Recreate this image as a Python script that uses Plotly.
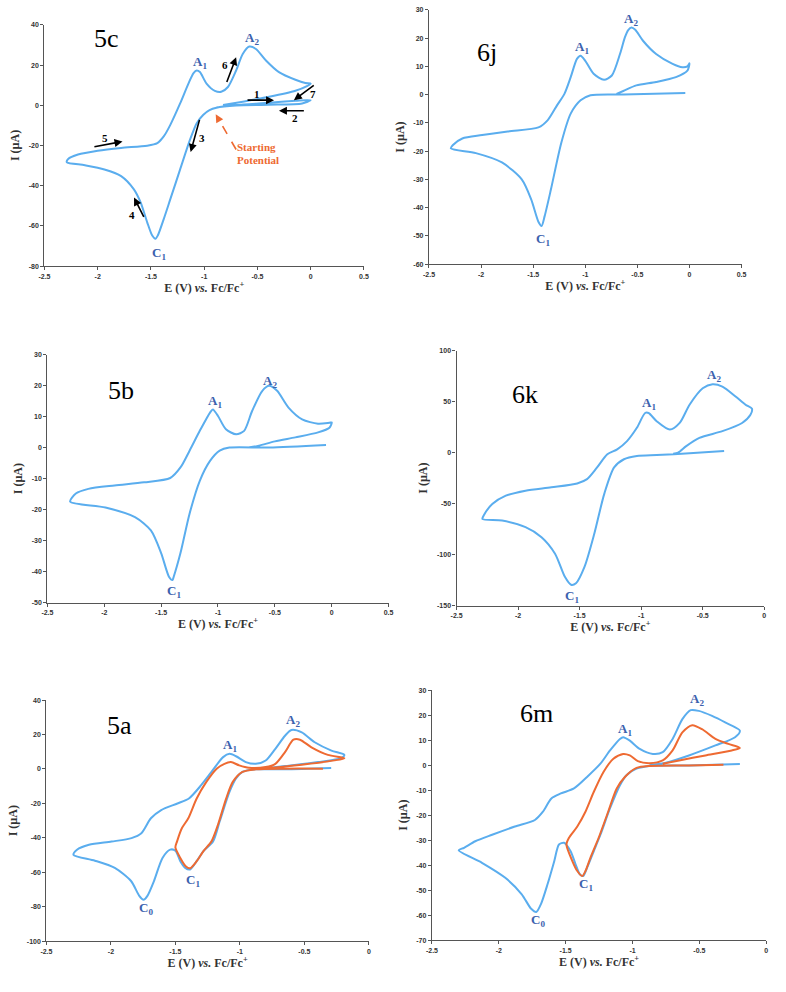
import plotly.graph_objects as go

# ---------------- data ----------------
e_5c = [-0.885, -0.7, -0.39, -0.143, 0.0,
        -0.08, -0.39, -0.7, -0.885, -0.95, -1.01, -1.07, -1.133, -1.226, -1.318, -1.38, -1.436, -1.458, -1.488,
        -1.535, -1.597, -1.66, -1.78, -1.937, -2.12, -2.29,
        -2.277, -2.185, -2.0, -1.78, -1.535, -1.44, -1.38, -1.318, -1.226, -1.148, -1.1, -1.07, -1.04, -0.978,
        -0.9, -0.84, -0.777, -0.7, -0.638, -0.576, -0.514, -0.42, -0.298, -0.143, -0.05, 0.0,
        -0.035, -0.143, -0.39, -0.638, -0.823]
i_5c = [-1.05, 0.1, 1.25, 2.2, 2.55,
        0.9, 0.26, -0.1, -1.2, -2.4, -4.8, -8.9, -17.1, -31.9, -46.7, -56.6, -64.8, -66.4, -64.8,
        -58.2, -48.3, -41.8, -35.2, -31.9, -29.8, -28.3,
        -26.7, -24.5, -22.6, -21.2, -20.1, -18.8, -15.5, -9.75, 0.9, 10.8, 16.0, 17.3, 16.5, 10.8,
        7.2, 6.7, 9.1, 17.3, 25.5, 29.2, 28.0, 22.3, 16.5, 12.7, 11.1, 10.8,
        9.5, 7.2, 4.2, 1.8, 0.1]

e_6j = [-0.04, -0.635, -0.95, -1.045, -1.14, -1.23, -1.33, -1.39, -1.42, -1.45, -1.52, -1.61, -1.80, -2.05, -2.29,
        -2.27, -2.18, -1.99, -1.74, -1.45, -1.36, -1.27, -1.2, -1.14, -1.08, -1.045, -1.0, -0.92, -0.82, -0.745,
        -0.667, -0.62, -0.588, -0.556, -0.52, -0.446, -0.32, -0.162, -0.068, -0.02, 0.0,
        -0.02, -0.13, -0.32, -0.51, -0.635, -0.7]
i_6j = [0.6, 0.1, -0.2, -2, -6.7, -17, -33.6, -43, -46.5, -45, -37, -30, -24, -20.7, -19,
        -17.8, -15.5, -14.3, -13, -11.6, -9, -3.7, 0.3, 6.2, 12.7, 13.8, 12, 7.4, 5.3, 6.8,
        14.4, 20.3, 22.9, 23.8, 23.0, 19.1, 14.4, 10.9, 9.7, 10.0, 11.1,
        8.5, 6.2, 4.5, 3.3, 1.3, 0.3]

e_5b = [-0.05, -0.55, -0.9, -0.985, -1.07, -1.16, -1.25, -1.33, -1.39, -1.40, -1.43, -1.5, -1.59, -1.73, -1.99, -2.3,
        -2.25, -2.14, -1.91, -1.65, -1.42, -1.33, -1.25, -1.16, -1.07, -1.045, -1.0, -0.93, -0.84, -0.77,
        -0.7, -0.61, -0.55, -0.48, -0.38, -0.26, -0.12, -0.02, 0.0,
        -0.02, -0.12, -0.32, -0.5, -0.64, -0.73]
i_5b = [0.8, 0, 0, -1, -4.3, -10.7, -21.3, -34, -41.7, -42.7, -41.7, -34, -26.7, -22.4, -19.3, -17.4,
        -14.8, -13.3, -12.2, -11.2, -9.8, -6.4, -1, 5.4, 11.3, 12.3, 10.2, 5.9, 4.3, 5.4,
        11.8, 18.3, 19.9, 18.3, 12.9, 9.1, 7.7, 8, 8.1,
        6.4, 4.9, 3.3, 2, 0.6, 0]

e_6k = [-0.326, -0.607, -0.874, -1.035, -1.14, -1.22, -1.30, -1.38, -1.46, -1.53, -1.57, -1.62, -1.70, -1.81, -1.94,
        -2.13, -2.29,
        -2.28, -2.21, -2.10, -1.94, -1.73, -1.52, -1.44, -1.36, -1.275, -1.195, -1.115, -1.035, -0.968, -0.94,
        -0.874, -0.767, -0.687, -0.607, -0.5, -0.42, -0.34, -0.233, -0.152, -0.1,
        -0.112, -0.18, -0.34, -0.527, -0.634, -0.7, -0.74]
i_6k = [1.5, -0.7, -2.3, -3.3, -6.5, -14.5, -40.4, -79, -111.7, -128, -129.5, -121.7, -99, -82.8, -73,
        -66.6, -65,
        -61.6, -50.4, -42.2, -37.3, -34, -30.2, -26, -14.8, -1.7, 3.2, 11.3, 24.3, 38.8, 38.8,
        30.8, 22.6, 29.1, 46.9, 63, 67, 64.7, 55, 46.9, 43,
        37, 29, 21, 14.5, 6.4, 0, -1]

e_5a_blue = [-0.292, -0.65, -0.877, -0.98, -1.03, -1.08, -1.157, -1.208, -1.284, -1.335, -1.386, -1.424, -1.462,
             -1.5, -1.54, -1.6, -1.666, -1.717, -1.747, -1.78, -1.844, -1.97, -2.124, -2.29,
             -2.263, -2.17, -1.995, -1.84, -1.764, -1.69, -1.61, -1.484, -1.395, -1.30, -1.22, -1.13, -1.08,
             -1.03, -0.954, -0.877, -0.8, -0.725, -0.65, -0.6, -0.52, -0.42, -0.29, -0.19,
             -0.216, -0.394, -0.65, -0.827]
i_5a_blue = [0.6, -0.2, -0.2, -1.7, -5.5, -13.2, -30.5, -42, -47.8, -53.5, -58.3, -57.4, -53.5,
             -47.4, -46.8, -51.6, -65, -73.6, -75.9, -73.6, -65, -57.4, -53.2, -49.8,
             -46.9, -44, -42.1, -40.1, -37.3, -28.6, -23.8, -20, -17.1, -9.4, -1.7, 6.9, 8.8,
             7.4, 4, 3, 4.9, 11.7, 19.3, 22.6, 21.2, 15.5, 10.7, 8.2,
             6.3, 4, 1.7, 0.2]
e_5a_orange = [-0.356, -0.65, -0.877, -0.98, -1.055, -1.106, -1.17, -1.22, -1.284, -1.335, -1.386, -1.42, -1.462, -1.5,
               -1.487, -1.45, -1.4, -1.335, -1.26, -1.18, -1.12, -1.07, -1.005, -0.93, -0.8, -0.725, -0.65,
               -0.585, -0.534, -0.445, -0.318, -0.19,
               -0.267, -0.52, -0.776, -0.9]
i_5a_orange = [0.2, 0.2, -0.2, -1.7, -7.5, -17, -32.4, -42, -47.8, -53.5, -57.6, -56.4, -51.6, -45.5,
               -42, -34.4, -28.6, -17.1, -7.5, 0.2, 3, 4, 2.1, 0.7, 1.1, 3, 9.8,
               17, 17, 12.6, 8.2, 6.3,
               5, 2.5, 0.6, 0.2]

e_6m_blue = [-0.197, -0.578, -0.873, -0.97, -1.045, -1.094, -1.168, -1.24, -1.29, -1.34, -1.369, -1.394, -1.426,
             -1.463, -1.512, -1.55, -1.585, -1.635, -1.684, -1.72, -1.758, -1.83, -1.954, -2.126, -2.3,
             -2.26, -2.176, -2.05, -1.88, -1.73, -1.67, -1.607, -1.536, -1.438, -1.34, -1.24, -1.168, -1.094,
             -1.07, -1.02, -0.946, -0.848, -0.774, -0.7, -0.627, -0.565, -0.504, -0.405, -0.307, -0.197,
             -0.233, -0.38, -0.578, -0.75, -0.873]
i_6m_blue = [0.45, -0.1, -0.3, -1.4, -4, -8, -17.2, -27.8, -34.4, -41, -44.3, -43.6, -39.6,
             -34.4, -31, -31.7, -38.3, -47.5, -55.4, -58.7, -57.4, -51.5, -44.9, -39, -34,
             -33, -30.4, -27.8, -24.5, -21.9, -18.6, -13.3, -11.3, -9.3, -4.7, 0.6, 5.9, 10.5,
             11.2, 9.8, 6.5, 4.5, 5.2, 10.5, 18.4, 22, 21.7, 19.7, 17.1, 13.8,
             11.2, 7.9, 3.9, 1, 0]
e_6m_orange = [-0.32, -0.578, -0.873, -0.97, -1.057, -1.118, -1.19, -1.253, -1.315, -1.352, -1.377, -1.413, -1.45,
               -1.494,
               -1.475, -1.413, -1.352, -1.29, -1.217, -1.143, -1.07, -1.02, -0.96, -0.873, -0.774, -0.7, -0.627,
               -0.553, -0.48, -0.38, -0.283, -0.197,
               -0.258, -0.455, -0.651, -0.774]
i_6m_orange = [0.2, -0.1, -0.3, -1.1, -4.7, -9.3, -19.8, -29, -37, -42.3, -44.3, -42.3, -38.3,
               -31.7,
               -29, -24.5, -18.6, -10.7, -2.7, 2.6, 4.5, 3.9, 1.6, 0.8, 1.9, 5.9, 13.1,
               16, 14.4, 10.5, 8.5, 6.9,
               5.9, 3.9, 1.9, 0.6]

# tick values
xt_wide = [-2.5, -2, -1.5, -1, -0.5, 0, 0.5]
xt_narrow = [-2.5, -2, -1.5, -1, -0.5, 0]
yt_5c = [-80, -60, -40, -20, 0, 20, 40]
yt_6j = [-60, -50, -40, -30, -20, -10, 0, 10, 20, 30]
yt_5b = [-50, -40, -30, -20, -10, 0, 10, 20, 30]
yt_6k = [-150, -100, -50, 0, 50, 100]
yt_5a = [-100, -80, -60, -40, -20, 0, 20, 40]
yt_6m = [-70, -60, -50, -40, -30, -20, -10, 0, 10, 20, 30]

panel_names = ["5c", "6j", "5b", "6k", "5a", "6m"]

# ---------------- styling ----------------
BLUE = "#5aadee"
ORANGE = "#ee6a32"
LBL = "#3c62ae"
W, H = 786, 992


def dom_x(a, b):
    return [a / W, b / W]


def dom_y(top, bottom):
    return [1 - bottom / H, 1 - top / H]


panels = [
    ("5c", (39, 363), (21, 264), [-2.5, 0.5], [-80, 40], xt_wide, yt_5c),
    ("6j", (429, 746), (6, 262), [-2.5, 0.5], [-60, 30], xt_wide, yt_6j),
    ("5b", (42, 388), (353, 603), [-2.5, 0.5], [-50, 30], xt_wide, yt_5b),
    ("6k", (457, 769), (349, 606), [-2.5, 0], [-150, 100], xt_narrow, yt_6k),
    ("5a", (41, 368), (701, 944), [-2.5, 0], [-100, 40], xt_narrow, yt_5a),
    ("6m", (432, 771), (691, 943), [-2.5, 0], [-70, 30], xt_narrow, yt_6m),
]

curves = {
    "5c": [(e_5c, i_5c, BLUE)],
    "6j": [(e_6j, i_6j, BLUE)],
    "5b": [(e_5b, i_5b, BLUE)],
    "6k": [(e_6k, i_6k, BLUE)],
    "5a": [(e_5a_blue, i_5a_blue, BLUE), (e_5a_orange, i_5a_orange, ORANGE)],
    "6m": [(e_6m_blue, i_6m_blue, BLUE), (e_6m_orange, i_6m_orange, ORANGE)],
}

fig = go.Figure()
layout = dict(width=W, height=H, margin=dict(l=0, r=0, t=0, b=0),
              paper_bgcolor="white", plot_bgcolor="white", showlegend=False)

annotations = []
shapes = []

axis_common = dict(showgrid=False, zeroline=False, showline=True, linecolor="#555555", linewidth=1.3,
                   ticks="outside", ticklen=3, tickcolor="#555555", tickwidth=1,
                   tickfont=dict(family="Liberation Sans", size=7, color="#333333", weight="bold"))

for k, (name, xd, yd, xr, yr, xt, yt) in enumerate(panels):
    n = "" if k == 0 else str(k + 1)
    xa, ya = "x" + n, "y" + n
    layout["xaxis" + n] = dict(axis_common, domain=dom_x(*xd), range=xr, anchor=ya,
                               tickvals=xt, ticktext=[f"{v:g}" for v in xt],
                               title=dict(text="<b>E (V) <i>vs.</i> Fc/Fc<sup>+</sup></b>",
                                          font=dict(family="Liberation Serif", size=12, color="#333333"),
                                          standoff=4))
    layout["yaxis" + n] = dict(axis_common, domain=dom_y(*yd), range=yr, anchor=xa,
                               tickvals=yt, ticktext=[f"{v:g}" for v in yt],
                               title=dict(text="<b>I (µA)</b>",
                                          font=dict(family="Liberation Serif", size=12, color="#333333"),
                                          standoff=6))
    for (ex, iy, col) in curves[name]:
        fig.add_trace(go.Scatter(x=ex, y=iy, mode="lines", xaxis=xa, yaxis=ya,
                                 line=dict(color=col, width=2, shape="spline", smoothing=0.75),
                                 hoverinfo="skip"))

labels = [
    (0, "5c", -1.92, 33.0, 26, "black", False),
    (0, "A<sub>1</sub>", -1.04, 21.5, 13, LBL, True),
    (0, "A<sub>2</sub>", -0.55, 33.0, 13, LBL, True),
    (0, "C<sub>1</sub>", -1.42, -73.5, 13, LBL, True),
    (1, "6j", -1.943, 15.0, 26, "black", False),
    (1, "A<sub>1</sub>", -1.03, 16.8, 13, LBL, True),
    (1, "A<sub>2</sub>", -0.56, 26.7, 13, LBL, True),
    (1, "C<sub>1</sub>", -1.41, -51.2, 13, LBL, True),
    (2, "5b", -1.85, 18.3, 26, "black", False),
    (2, "A<sub>1</sub>", -1.03, 15.0, 13, LBL, True),
    (2, "A<sub>2</sub>", -0.54, 21.4, 13, LBL, True),
    (2, "C<sub>1</sub>", -1.39, -46.5, 13, LBL, True),
    (3, "6k", -1.944, 57, 26, "black", False),
    (3, "A<sub>1</sub>", -0.94, 48.5, 13, LBL, True),
    (3, "A<sub>2</sub>", -0.41, 76, 13, LBL, True),
    (3, "C<sub>1</sub>", -1.56, -141, 13, LBL, True),
    (4, "5a", -1.933, 25.0, 26, "black", False),
    (4, "A<sub>1</sub>", -1.08, 13.6, 13, LBL, True),
    (4, "A<sub>2</sub>", -0.585, 28, 13, LBL, True),
    (4, "C<sub>1</sub>", -1.36, -64.5, 13, LBL, True),
    (4, "C<sub>0</sub>", -1.73, -81.2, 13, LBL, True),
    (5, "6m", -1.72, 20.5, 26, "black", False),
    (5, "A<sub>1</sub>", -1.055, 14.4, 13, LBL, True),
    (5, "A<sub>2</sub>", -0.515, 26.3, 13, LBL, True),
    (5, "C<sub>1</sub>", -1.345, -47.8, 13, LBL, True),
    (5, "C<sub>0</sub>", -1.705, -62.1, 13, LBL, True),
]
for (k, txt, ex, iy, sz, col, bold) in labels:
    n = "" if k == 0 else str(k + 1)
    annotations.append(dict(text=txt, x=ex, y=iy, xref="x" + n, yref="y" + n, showarrow=False,
                            font=dict(family="Liberation Serif", size=sz, color=col,
                                      weight="bold" if bold else "normal")))

arrows_5c = [
    (-0.607, 2.56, -0.344, 2.56),
    (-0.05, -2.7, -0.298, -2.7),
    (-1.04, -6.5, -1.127, -23.2),
    (-1.56, -56.2, -1.659, -45.9),
    (-2.045, -20.8, -1.767, -18.0),
    (-0.793, 10.8, -0.70, 23.9),
    (0.043, 10.4, -0.158, 2.56),
]
for (tx, ty, hx, hy) in arrows_5c:
    annotations.append(dict(x=hx, y=hy, ax=tx, ay=ty, xref="x", yref="y", axref="x", ayref="y",
                            text="", showarrow=True, arrowhead=2, arrowsize=1, arrowwidth=1.6,
                            arrowcolor="black"))
nums_5c = [("1", -0.5, 5.8), ("2", -0.15, -6.5), ("3", -1.025, -16.3), ("4", -1.68, -54.4),
           ("5", -1.928, -16.3), ("6", -0.80, 19.8), ("7", 0.025, 5.8)]
for (t, ex, iy) in nums_5c:
    annotations.append(dict(text=t, x=ex, y=iy, xref="x", yref="y", showarrow=False,
                            font=dict(family="Liberation Serif", size=11, color="black", weight="bold")))

shapes.append(dict(type="line", xref="x", yref="y", x0=-0.70, y0=-22.0, x1=-0.875, y1=-6.0,
                   line=dict(color=ORANGE, width=1.6, dash="dash")))
annotations.append(dict(x=-0.892, y=-4.5, ax=-0.87, ay=-6.5, xref="x", yref="y", axref="x", ayref="y",
                        text="", showarrow=True, arrowhead=2, arrowsize=1, arrowwidth=1.6,
                        arrowcolor=ORANGE))
annotations.append(dict(text="<b>Starting</b>", x=-0.51, y=-20.9, xref="x", yref="y", showarrow=False,
                        font=dict(family="Liberation Serif", size=11, color=ORANGE)))
annotations.append(dict(text="<b>Potential</b>", x=-0.49, y=-27.0, xref="x", yref="y", showarrow=False,
                        font=dict(family="Liberation Serif", size=11, color=ORANGE)))

layout["annotations"] = annotations
layout["shapes"] = shapes
fig.update_layout(**layout)
fig.write_html("out.html")
